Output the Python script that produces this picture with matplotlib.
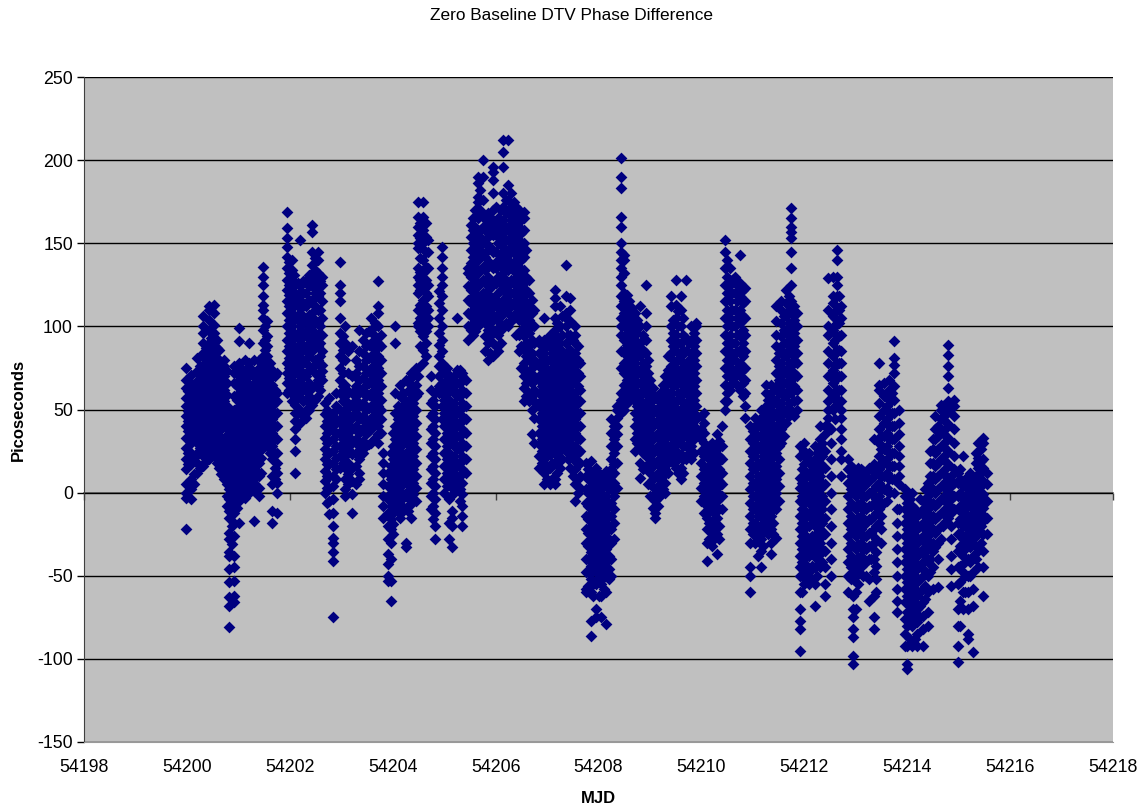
import matplotlib
matplotlib.use("Agg")
import matplotlib.pyplot as plt

plt.rcParams['font.family'] = ['Liberation Sans', 'DejaVu Sans']
plt.rcParams['axes.unicode_minus'] = False

# Values, one list per vertical streak of points
lobe1_x = [54199.98, 54200.07, 54200.19, 54200.31, 54200.42, 54200.53, 54200.62, 54200.72, 54200.82, 54200.91]
lobe1_y = [
    [-22, -3, 0, 5, 14, 20, 27, 33, 40, 46, 52, 57, 63, 68, 75],
    [-4, 2, 8, 17, 24, 30, 36, 42, 48, 54, 60, 66, 71],
    [12, 18, 24, 30, 36, 43, 50, 55, 61, 67, 73, 81],
    [16, 22, 28, 35, 41, 47, 53, 59, 65, 71, 77, 84, 90, 96, 100, 106],
    [20, 26, 32, 38, 45, 52, 58, 64, 70, 76, 82, 90, 97, 104, 110, 112],
    [22, 28, 34, 40, 47, 54, 60, 66, 72, 78, 84, 90, 96, 101, 108, 113],
    [15, 20, 27, 34, 42, 50, 56, 62, 68, 74, 80, 86],
    [8, 13, 20, 26, 33, 41, 49, 55, 62, 70, 76, 80],
    [-81, -68, -63, -54, -46, -38, -36, -28, -24, -15, -11, -4, 2, 8, 14, 20, 28, 35, 43],
    [-66, -62, -53, -45, -38, -26, -18, -12, -7, 0, 6, 13, 20, 27, 36, 42, 50, 58, 66, 72, 76],
]
lobe2_x = [54201.02, 54201.12, 54201.21, 54201.31, 54201.4, 54201.47, 54201.56, 54201.66, 54201.76]
lobe2_y = [
    [-18, -5, 0, 7, 14, 20, 28, 34, 40, 46, 52, 60, 68, 76, 78, 91, 99],
    [-3, 3, 9, 15, 22, 28, 35, 42, 48, 54, 60, 67, 74, 80],
    [0, 6, 12, 19, 26, 33, 40, 46, 53, 60, 70, 78, 90],
    [-17, 1, 6, 14, 20, 28, 35, 41, 50, 56, 62, 70, 80],
    [-2, 3, 10, 18, 25, 33, 40, 46, 53, 58, 66, 73, 80],
    [27, 35, 43, 50, 58, 66, 74, 82, 90, 98, 105, 110, 113, 118, 125, 130, 136],
    [28, 36, 43, 50, 57, 64, 70, 76, 82, 88, 94, 103],
    [-18, -11, 5, 10, 20, 28, 36, 44, 52, 58, 65, 74],
    [-12, 0, 6, 12, 18, 24, 32, 40, 48, 55, 60, 72],
]
lobe3_x = [54201.95, 54202.04, 54202.11, 54202.2, 54202.32, 54202.44, 54202.54, 54202.62]
lobe3_y = [
    [60, 66, 72, 78, 85, 92, 100, 108, 115, 122, 128, 135, 142, 148, 153, 159, 169],
    [55, 62, 70, 78, 84, 92, 100, 108, 115, 122, 128, 134, 140],
    [12, 25, 32, 38, 43, 48, 53, 60, 66, 75, 85, 95, 105],
    [42, 50, 60, 68, 76, 84, 92, 100, 108, 116, 124, 152],
    [45, 50, 56, 62, 70, 78, 86, 95, 103, 112, 120, 128],
    [53, 63, 75, 85, 92, 100, 108, 116, 124, 130, 137, 145, 157, 161],
    [58, 64, 68, 80, 88, 95, 102, 110, 118, 125, 132, 140, 145],
    [68, 73, 77, 85, 95, 105, 115, 125, 130],
]
lobe4_x = [54202.68, 54202.76, 54202.83, 54202.97, 54203.08, 54203.2, 54203.35, 54203.48, 54203.58, 54203.72]
lobe4_y = [
    [0, 7, 13, 20, 26, 33, 40, 47, 54],
    [-13, -5, 3, 10, 17, 24, 31, 38, 45, 57],
    [-75, -41, -36, -30, -27, -20, -12, -4, 4, 10, 18, 25, 32, 40, 48],
    [15, 22, 28, 35, 42, 50, 60, 68, 75, 82, 90, 96, 105, 115, 120, 125, 139],
    [-2, 2, 8, 15, 22, 30, 38, 44, 50, 58, 65, 80, 90, 100],
    [-12, -1, 7, 15, 23, 30, 38, 45, 52, 60, 70, 88],
    [8, 12, 20, 28, 36, 44, 52, 60, 68, 76, 85, 98],
    [28, 35, 42, 50, 58, 65, 72, 80, 88, 96],
    [30, 38, 45, 52, 60, 68, 75, 82, 90, 98, 105],
    [30, 35, 40, 45, 52, 60, 68, 75, 82, 90, 100, 108, 112, 127],
]
lobe5_x = [54203.81, 54203.91, 54203.97, 54204.05, 54204.15, 54204.25, 54204.35, 54204.45]
lobe5_y = [
    [-15, -8, -2, 5, 12, 18, 24],
    [-53, -50, -43, -37, -28, -20, -12, -4, 4, 12],
    [-65, -53, -40, -30, -22, -16, -8, 0, 8, 16, 24],
    [-8, 0, 8, 16, 24, 32, 40, 48, 60, 90, 100],
    [-15, -7, 1, 9, 17, 25, 33, 41, 49, 58, 65],
    [-33, -30, -9, 0, 8, 16, 24, 32, 40, 48, 55, 68],
    [-15, -7, 1, 9, 17, 25, 33, 41, 49, 57, 65, 72],
    [-5, 3, 10, 18, 26, 34, 42, 50, 58, 65, 75],
]
lobe6_x = [54204.5, 54204.59, 54204.68, 54204.74, 54204.82, 54204.95, 54205.05, 54205.15, 54205.25, 54205.35, 54205.42]
lobe6_y = [
    [60, 70, 75, 100, 102, 110, 120, 125, 130, 135, 147, 150, 155, 160, 166, 175],
    [78, 86, 94, 100, 108, 116, 124, 132, 140, 150, 158, 166, 175],
    [100, 105, 110, 118, 125, 135, 145, 152],
    [-10, -2, 6, 14, 22, 30, 38, 46, 54, 62, 70],
    [-28, -20, -12, -4, 4, 12, 20, 28, 36, 44, 52, 60],
    [44, 52, 60, 66, 72, 78, 85, 92, 100, 110, 118, 125, 130, 135, 142, 148],
    [4, 12, 20, 28, 36, 44, 52, 60, 68, 75],
    [-33, -20, -15, -11, 3, 5, 13, 21, 29, 37, 45, 53, 61, 69],
    [3, 10, 18, 26, 34, 42, 50, 58, 66, 74, 105],
    [-20, -14, -8, -1, 6, 14, 22, 30, 38, 46, 54, 62, 70, 72],
    [12, 20, 28, 36, 44, 52, 60, 68],
]
hump_x = [54205.47, 54205.56, 54205.65, 54205.75, 54205.85, 54205.95, 54206.05, 54206.15, 54206.25, 54206.35, 54206.45, 54206.55, 54206.65, 54206.75]
hump_y = [
    [92, 100, 108, 116, 124, 132, 135],
    [95, 102, 110, 118, 126, 134, 142, 150, 158, 165],
    [100, 108, 116, 124, 132, 140, 148, 155, 165, 175, 178, 186, 190],
    [105, 113, 120, 128, 136, 144, 152, 160, 166, 176, 190, 200],
    [80, 90, 98, 106, 114, 122, 130, 138, 146, 154, 162, 168],
    [82, 90, 98, 106, 114, 125, 135, 145, 155, 162, 170, 180, 188, 193, 196],
    [85, 95, 103, 111, 120, 130, 140, 150, 160, 165],
    [100, 108, 116, 124, 132, 140, 148, 156, 164, 172, 180, 196, 205, 212],
    [100, 108, 116, 125, 134, 143, 152, 160, 168, 176, 185, 212],
    [105, 113, 120, 128, 136, 144, 152, 160, 168, 175],
    [85, 95, 104, 112, 120, 128, 136, 144, 152, 160, 165, 170],
    [55, 63, 70, 78, 86, 94, 102, 110, 118, 126, 134, 142, 150, 158, 165, 169],
    [55, 60, 70, 80, 88, 96, 104, 112, 120, 128],
    [30, 45, 55, 62, 70, 80, 90, 100, 110],
]
lobe7_x = [54206.85, 54206.95, 54207.05, 54207.15, 54207.25, 54207.36, 54207.45, 54207.55, 54207.65]
lobe7_y = [
    [15, 22, 29, 36, 44, 52, 60, 68, 76, 84, 92],
    [5, 12, 20, 28, 36, 44, 52, 60, 68, 76, 84, 92, 105],
    [5, 7, 15, 23, 31, 39, 47, 55, 63, 70, 80, 88, 95],
    [5, 8, 18, 26, 34, 42, 50, 58, 66, 74, 82, 90, 98, 105, 112, 117, 122],
    [15, 25, 33, 41, 49, 57, 65, 73, 81, 90, 100, 112],
    [25, 33, 41, 49, 57, 65, 73, 81, 90, 100, 108, 118, 137],
    [15, 24, 30, 38, 46, 54, 62, 70, 78, 86, 95, 103, 110, 117],
    [-5, 5, 14, 20, 28, 36, 44, 52, 60, 68, 76, 84, 90, 95, 100],
    [3, 10, 18, 25, 32, 40, 48, 55, 62, 70, 78],
]
lobe8_x = [54207.75, 54207.85, 54207.95, 54208.05, 54208.15, 54208.25, 54208.35]
lobe8_y = [
    [-60, -58, -48, -40, -30, -22, -14, -6, 2, 10, 18],
    [-86, -77, -60, -52, -44, -36, -28, -20, -12, -4, 4, 12, 19],
    [-75, -70, -55, -47, -39, -31, -23, -15, -7, 1, 9, 15],
    [-75, -62, -55, -47, -39, -31, -23, -15, -7, 0, 7],
    [-79, -60, -50, -42, -34, -26, -18, -10, -2, 6, 13],
    [-50, -40, -30, -22, -14, -6, 2, 10, 14, 20, 28, 36, 44],
    [3, 18, 28, 35, 40, 45, 50, 52],
]
lobe9_x = [54208.43, 54208.5, 54208.6, 54208.7, 54208.8, 54208.92, 54209.0, 54209.1, 54209.2, 54209.3, 54209.4, 54209.5, 54209.6, 54209.7, 54209.8, 54209.9]
lobe9_y = [
    [48, 52, 56, 60, 75, 85, 95, 100, 105, 112, 118, 125, 130, 135, 140, 145, 150, 160, 166, 183, 190, 201],
    [50, 58, 65, 72, 78, 85, 92, 100, 108, 115, 120, 132, 140, 143],
    [55, 62, 70, 78, 85, 92, 100, 108, 115],
    [25, 32, 40, 48, 55, 62, 70, 78, 85, 92, 100, 108],
    [9, 18, 28, 35, 42, 50, 58, 66, 74, 82, 90, 100, 112],
    [22, 28, 36, 44, 52, 60, 68, 76, 84, 92, 100, 108, 125],
    [-2, 5, 12, 20, 28, 36, 44, 52, 60, 68],
    [-15, -12, -5, 2, 10, 18, 26, 34, 42, 50, 58],
    [-2, 5, 13, 21, 29, 37, 45, 52, 60],
    [0, 6, 14, 22, 30, 38, 46, 54, 62, 70],
    [20, 28, 36, 44, 52, 60, 68, 76, 84, 92, 100, 112, 118],
    [15, 25, 35, 45, 55, 65, 75, 85, 95, 105, 113, 128],
    [8, 15, 23, 32, 42, 50, 58, 66, 74, 82, 90, 100, 110, 118],
    [20, 28, 36, 44, 52, 60, 68, 76, 85, 93, 128],
    [20, 28, 36, 44, 52, 60, 68, 76, 84, 92, 100],
    [36, 44, 52, 60, 68, 76, 84, 92, 100, 102],
]
lobe10_x = [54210.0, 54210.1, 54210.2, 54210.3, 54210.4, 54210.46, 54210.55, 54210.65, 54210.75, 54210.85]
lobe10_y = [
    [-5, 3, 10, 18, 25, 32, 38, 46],
    [-41, -30, -22, -15, -8, 0, 8, 15, 25],
    [-32, -24, -17, -8, 0, 8, 16, 24, 30],
    [-37, -25, -15, -5, 3, 10, 18, 26, 35],
    [-10, -2, 5, 12, 20, 28, 40],
    [50, 55, 65, 75, 85, 95, 105, 115, 125, 135, 145, 152],
    [62, 70, 78, 85, 95, 105, 115, 125, 135],
    [70, 80, 90, 100, 110, 120, 130],
    [62, 70, 78, 86, 94, 102, 110, 118, 126, 143],
    [45, 52, 60, 68, 75, 85, 95, 105, 115, 123],
]
lobe11_x = [54210.95, 54211.05, 54211.15, 54211.25, 54211.35, 54211.45, 54211.55, 54211.65, 54211.75, 54211.85]
lobe11_y = [
    [-60, -50, -45, -30, -22, -14, -6, 2, 10, 18, 25, 32, 40],
    [-30, -25, -18, -10, -2, 6, 14, 22, 30, 38, 45],
    [-45, -35, -28, -20, -12, -5, 3, 10, 18, 26, 34, 42, 50],
    [-20, -12, -4, 4, 12, 20, 28, 36, 44, 52, 60, 65],
    [-37, -30, -22, -14, -6, 2, 10, 18, 26, 34, 42, 50, 57, 65],
    [-27, -10, 0, 8, 16, 24, 32, 40, 48, 56, 64, 72, 80, 88, 95, 103, 112],
    [30, 38, 46, 54, 62, 70, 78, 86, 94, 102, 110, 115],
    [42, 50, 58, 66, 74, 82, 90, 98, 106, 114, 122],
    [50, 60, 68, 76, 84, 92, 100, 108, 115, 125, 135, 145, 153, 157, 160, 165, 171],
    [50, 56, 62, 70, 78, 84, 92, 100, 108],
]
lobe12_x = [54211.92, 54212.0, 54212.1, 54212.2, 54212.3, 54212.4, 54212.47, 54212.55, 54212.63, 54212.72]
lobe12_y = [
    [-95, -82, -77, -70, -60, -50, -45, -38, -30, -22, -14, -5, 3, 9, 22, 28],
    [-55, -47, -40, -32, -25, -15, -7, 1, 9, 17, 25, 30],
    [-55, -48, -38, -30, -20, -12, -4, 4, 12, 20, 24],
    [-68, -55, -45, -35, -28, -20, -12, -4, 4, 12, 20, 28],
    [-45, -37, -30, -22, -14, -6, 2, 10, 18, 25, 32, 40],
    [-62, -55, -45, -35, -25, -15, -5, 5, 15, 25, 35, 40],
    [40, 45, 50, 55, 62, 70, 78, 85, 95, 100, 110, 129],
    [50, 58, 66, 74, 82, 90, 98, 106, 114, 118, 130],
    [55, 62, 70, 78, 86, 94, 102, 110, 118, 125, 130, 140, 146],
    [10, 20, 25, 32, 38, 45, 50, 55, 62, 70, 78, 85, 95, 105, 112],
]
lobe13_x = [54212.85, 54212.94, 54213.05, 54213.15, 54213.25, 54213.35, 54213.45, 54213.55, 54213.65, 54213.75, 54213.85]
lobe13_y = [
    [-60, -50, -42, -34, -26, -18, -10, -2, 6, 14, 20],
    [-103, -98, -87, -82, -75, -70, -62, -52, -48, -40, -32, -24, -16, -8, 0, 8, 15],
    [-55, -47, -39, -31, -23, -15, -7, 1, 9, 15],
    [-50, -42, -34, -26, -18, -10, -2, 6, 13],
    [-65, -52, -40, -32, -24, -16, -8, 0, 8, 15],
    [-82, -75, -62, -48, -40, -30, -22, -14, -6, 2, 10, 17, 32],
    [-18, -10, -2, 6, 14, 22, 30, 38, 46, 54, 62, 65, 78],
    [-6, 2, 10, 18, 26, 34, 42, 50, 58, 66],
    [0, 8, 16, 24, 32, 40, 48, 56, 60, 62, 68],
    [0, 8, 16, 24, 32, 40, 48, 56, 64, 72, 77, 81, 91],
    [-10, 5, 10, 16, 22, 28, 35, 42, 50],
]
lobe14_x = [54213.95, 54214.0, 54214.1, 54214.2, 54214.3, 54214.4, 54214.5, 54214.6, 54214.7, 54214.8, 54214.9]
lobe14_y = [
    [-92, -85, -76, -66, -58, -50, -42, -34, -26, -18, -10, -2, 2],
    [-106, -103, -92, -80, -72, -62, -54, -46, -38, -30, -22, -14, -6],
    [-92, -80, -72, -64, -56, -48, -40, -32, -24, -16, -8, 0],
    [-92, -85, -78, -70, -62, -54, -46, -38, -30, -22, -14],
    [-92, -82, -74, -66, -58, -50, -42, -34, -26, -18, -10, -5],
    [-80, -72, -60, -50, -42, -34, -26, -18, -10, -2, 6],
    [-58, -45, -35, -30, -22, -14, -6, 2, 10, 18, 26, 32],
    [-57, -40, -30, -22, -14, -6, 2, 10, 18, 26, 34, 40],
    [-20, -12, -4, 4, 12, 20, 28, 36, 44, 52],
    [-15, -7, 1, 9, 17, 25, 33, 41, 49, 55, 63, 70, 76, 83, 89],
    [-10, -2, 6, 14, 22, 30, 38, 46, 52, 56],
]
lobe15_x = [54214.98, 54215.08, 54215.18, 54215.28, 54215.38, 54215.48, 54215.55]
lobe15_y = [
    [-102, -92, -80, -70, -55, -45, -35, -25, -18, -10, -2, 6, 12],
    [-70, -60, -48, -38, -28, -20, -12, -4, 4, 22],
    [-88, -85, -70, -60, -50, -40, -30, -22, -14, -6, 2, 10],
    [-96, -68, -58, -48, -38, -28, -20, -12, -4, 4, 8],
    [-45, -35, -25, -17, -9, -1, 7, 15, 21, 30],
    [-62, -45, -35, -25, -17, -9, -1, 7, 15, 20, 30, 33],
    [-25, -15, -5, 5, 12],
]
# the solid middle of each streak group
core_x = [54200.03, 54200.13, 54200.25, 54200.37, 54200.47, 54200.58, 54200.67, 54200.77, 54200.87, 54200.97,
          54201.07, 54201.17, 54201.26, 54201.36, 54201.44, 54201.52, 54201.61, 54201.71, 54201.99, 54202.08,
          54202.16, 54202.26, 54202.38, 54202.49, 54202.58, 54202.72, 54202.9, 54203.03, 54203.14, 54203.28,
          54203.42, 54203.53, 54203.65, 54203.77, 54204.0, 54204.1, 54204.2, 54204.3, 54204.4, 54204.54,
          54204.64, 54204.78, 54204.9, 54205.0, 54205.1, 54205.2, 54205.3, 54205.52, 54205.6, 54205.7,
          54205.8, 54205.9, 54206.0, 54206.1, 54206.2, 54206.3, 54206.4, 54206.5, 54206.6, 54206.7,
          54206.9, 54207.0, 54207.1, 54207.2, 54207.3, 54207.4, 54207.5, 54207.6, 54207.8, 54207.9,
          54208.0, 54208.1, 54208.2, 54208.3, 54208.55, 54208.65, 54208.75, 54208.86, 54208.96, 54209.05,
          54209.15, 54209.25, 54209.35, 54209.45, 54209.55, 54209.65, 54209.75, 54209.85, 54210.05, 54210.15,
          54210.25, 54210.35, 54210.5, 54210.6, 54210.7, 54210.8, 54211.0, 54211.1, 54211.2, 54211.3,
          54211.4, 54211.5, 54211.6, 54211.7, 54211.8, 54211.96, 54212.05, 54212.15, 54212.25, 54212.35,
          54212.52, 54212.59, 54212.68, 54212.9, 54213.0, 54213.1, 54213.2, 54213.3, 54213.4, 54213.5,
          54213.6, 54213.7, 54213.8, 54214.05, 54214.15, 54214.25, 54214.35, 54214.45, 54214.55, 54214.65,
          54214.75, 54214.85, 54215.03, 54215.13, 54215.23, 54215.33, 54215.43, 54215.51]
core_y = [
    [17, 24, 37, 43, 49, 61], [5, 11, 21, 33, 39, 45, 51, 57, 63], [15, 27, 33, 39, 46, 52, 58, 64, 70, 76],
    [19, 25, 31, 38, 44, 50, 56, 62, 68, 74, 80, 87], [24, 30, 36, 42, 49, 55, 61, 67, 73, 79, 85, 93],
    [18, 25, 31, 37, 44, 51, 57, 63, 69, 75, 81, 87, 92], [11, 17, 24, 30, 38, 46, 53, 59, 65, 71, 77],
    [-8, -2, 5, 11, 17, 24, 31, 38, 46, 52, 59, 66, 73], [-31, -20, -8, -1, 5, 11, 17, 24, 32, 39, 47],
    [-9, -2, 3, 10, 17, 24, 31, 37, 43, 49, 56, 64, 72], [3, 10, 17, 24, 31, 38, 45, 51, 57, 64, 71],
    [0, 6, 12, 18, 25, 31, 38, 45, 51, 57, 64, 71], [3, 9, 16, 23, 30, 36, 43, 50, 56, 65, 74],
    [3, 10, 17, 24, 31, 38, 45, 53, 59, 66, 74], [12, 21, 29, 37, 43, 50, 55, 62, 70, 78],
    [30, 39, 47, 54, 61, 68, 74, 80, 86, 92, 100], [24, 32, 40, 47, 54, 61, 69, 78], [8, 15, 24, 32, 40, 48, 55, 62, 70],
    [62, 69, 75, 81, 88, 96, 104, 112, 119, 125, 132, 139], [58, 66, 74, 81, 88, 96, 104, 112, 119, 125, 131],
    [48, 57, 65, 72, 80, 88, 96, 104, 112, 119, 126], [46, 55, 64, 72, 80, 88, 96, 104, 112, 120, 127],
    [50, 58, 66, 74, 82, 90, 99, 107, 116, 124, 131], [56, 65, 72, 80, 88, 96, 104, 112, 120, 127, 134, 141],
    [62, 70, 76, 82, 90, 100, 110, 120, 127], [-6, 3, 10, 17, 23, 30, 36, 43, 50], [8, 14, 21, 28, 36, 44, 52, 60],
    [18, 25, 32, 38, 46, 55, 64, 72, 80, 86, 94], [5, 11, 18, 26, 34, 41, 47, 54, 61, 72, 85], [5, 16, 24, 32, 40, 48, 56, 64, 72, 80],
    [24, 31, 39, 46, 54, 62, 69, 76, 84, 92], [29, 37, 43, 51, 59, 66, 73, 81, 89, 97], [33, 42, 49, 56, 64, 72, 79, 86, 94, 102],
    [36, 44, 50, 56, 64, 72, 80, 88, 95], [-25, -19, -12, -4, 4, 12, 20, 28, 36], [-11, -4, 4, 12, 20, 28, 36, 44, 52],
    [-11, -3, 5, 13, 21, 29, 37, 45, 53, 60], [-11, -3, 5, 13, 21, 29, 37, 45, 53, 61], [-1, 6, 14, 22, 30, 38, 46, 54, 62, 70],
    [88, 97, 105, 113, 122, 128, 133, 141, 148, 153, 162], [82, 90, 97, 104, 112, 120, 128, 136, 145, 154, 162], [-16, -8, 0, 8, 16, 24, 32, 40, 48, 56],
    [60, 64, 70, 76, 82, 89, 96, 105, 114, 121], [0, 8, 16, 24, 32, 40, 48, 56, 64, 72], [-28, -18, -4, 8, 16, 24, 32, 40, 48, 56, 64, 71],
    [0, 7, 14, 22, 30, 38, 46, 54, 62, 70], [-5, 2, 10, 18, 26, 34, 42, 50, 58, 66, 74],
    [98, 106, 114, 122, 130, 138, 146, 154, 161], [97, 105, 113, 120, 128, 136, 144, 151, 160, 170], [102, 110, 118, 126, 134, 142, 150, 158, 170, 182],
    [85, 94, 102, 110, 118, 126, 134, 142, 150, 158, 165], [84, 94, 102, 110, 118, 128, 138, 148, 158, 166], [88, 98, 106, 116, 126, 135, 145, 155, 163, 172],
    [90, 98, 106, 114, 122, 128, 136, 144, 152, 162, 170], [102, 112, 120, 128, 136, 144, 152, 160, 168, 176], [103, 112, 120, 128, 138, 148, 156, 164, 172, 180],
    [95, 108, 116, 124, 132, 140, 148, 156, 164, 172], [75, 88, 98, 108, 116, 124, 132, 140, 148, 156, 164], [58, 66, 74, 82, 90, 98, 106, 114, 122, 130, 146],
    [35, 50, 58, 66, 75, 84, 92, 100, 108, 116], [18, 25, 32, 40, 48, 56, 64, 72, 80, 88], [8, 16, 24, 32, 40, 48, 56, 64, 72, 80, 88],
    [8, 18, 27, 35, 43, 51, 59, 67, 75, 84, 91], [12, 22, 30, 38, 46, 54, 62, 70, 78, 86, 94, 102], [20, 29, 37, 45, 53, 61, 69, 77, 85, 95, 106],
    [20, 28, 37, 45, 53, 61, 69, 77, 85, 95, 104], [10, 20, 27, 34, 42, 50, 58, 66, 74, 82, 92], [0, 8, 17, 24, 32, 40, 48, 56, 64, 72, 80, 88],
    [-56, -48, -40, -32, -24, -16, -8, 0, 8, 14], [-62, -55, -47, -40, -32, -24, -16, -8, 0, 7], [-62, -51, -43, -35, -27, -19, -11, -3, 5, 12],
    [-58, -51, -43, -35, -27, -19, -11, -3, 4, 10], [-52, -46, -38, -30, -22, -14, -6, 2, 9], [-28, -18, -10, -2, 6, 12, 17, 24, 32, 40],
    [54, 60, 68, 75, 82, 89, 96, 104, 112, 119], [58, 66, 74, 81, 88, 96, 104, 111], [30, 36, 44, 52, 59, 66, 74, 82, 89, 96, 104],
    [14, 24, 32, 39, 46, 54, 62, 70, 78, 86, 95], [5, 17, 25, 32, 40, 48, 56, 64, 72, 80], [-9, -2, 8, 16, 24, 32, 40, 48, 56, 63],
    [-8, 1, 9, 17, 25, 33, 41, 48, 56], [2, 10, 18, 26, 34, 42, 50, 57, 65], [12, 18, 26, 34, 42, 50, 58, 66, 74, 82],
    [18, 24, 32, 40, 48, 56, 64, 72, 80, 88, 96, 104], [12, 20, 30, 40, 50, 60, 70, 80, 90, 100, 109], [12, 20, 28, 37, 46, 54, 62, 70, 78, 86, 95, 105],
    [24, 32, 40, 48, 56, 64, 72, 80, 90], [24, 32, 40, 48, 56, 64, 72, 80, 88, 96], [-12, -2, 6, 14, 22, 30, 36, 42, 48],
    [-28, -18, -11, -4, 4, 12, 20, 28], [-28, -20, -12, -4, 4, 12, 20, 27], [-28, -20, -10, -1, 7, 14, 22, 31],
    [55, 60, 70, 80, 90, 100, 110, 120, 130, 140], [66, 74, 82, 90, 100, 110, 120, 128], [65, 75, 85, 95, 105, 115, 125],
    [58, 66, 74, 82, 90, 98, 106, 114, 122], [-25, -18, -10, -2, 6, 14, 22, 30, 37], [-38, -28, -21, -14, -6, 2, 10, 18, 26, 34, 42],
    [-32, -24, -16, -8, 0, 7, 14, 22, 30, 38, 46], [-25, -16, -8, 0, 8, 16, 24, 32, 40, 48, 56], [-25, -18, -10, -2, 6, 14, 22, 30, 38, 46, 54, 61],
    [-5, 4, 12, 20, 28, 36, 44, 52, 60, 68, 76, 84], [34, 42, 50, 58, 66, 74, 82, 90, 98, 106], [46, 54, 62, 70, 78, 86, 94, 102, 110, 118],
    [46, 55, 64, 72, 80, 88, 96, 104, 112], [-60, -50, -42, -34, -26, -18, -10, -2, 6, 14], [-52, -44, -36, -28, -20, -12, -4, 4, 12, 20],
    [-52, -44, -34, -26, -16, -8, 0, 8, 16], [-50, -40, -32, -24, -16, -8, 0, 8, 16, 24], [-42, -34, -26, -18, -10, -2, 6, 14, 22, 30],
    [-50, -40, -30, -20, -10, 0, 10, 20, 30, 38], [44, 52, 60, 68, 76, 84, 92, 100, 105], [55, 62, 70, 78, 86, 94, 102, 110, 118],
    [-45, -52, -38, -30, -22, -14, -6, 2, 10, 16], [-70, -60, -50, -42, -34, -26, -18, -10, -2, 6, 11], [-45, -38, -30, -22, -14, -6, 2, 8, 14],
    [-50, -42, -34, -26, -18, -10, -2, 5, 10], [-40, -32, -24, -16, -8, 0, 8, 14], [-60, -52, -44, -36, -28, -20, -12, -4, 4, 12],
    [-30, -22, -14, -6, 2, 10, 18, 26, 34], [-5, 3, 12, 20, 28, 36, 44, 52, 58], [8, 16, 24, 32, 40, 48, 56, 60],
    [-72, -65, -58, -50, -42, -34, -26, -18, -10], [-88, -76, -68, -60, -52, -44, -36, -28, -20, -12, -4], [-88, -74, -66, -58, -50, -42, -34, -26, -18, -10],
    [-75, -68, -60, -52, -44, -36, -28, -20, -12, -4], [-64, -56, -47, -38, -30, -22, -14, -6, 2], [-48, -40, -30, -22, -14, -6, 2, 10, 18, 25],
    [-33, -24, -16, -8, 0, 8, 16, 24, 32, 38, 46], [-28, -20, -12, -4, 4, 12, 20, 28, 36, 44, 50, 53], [-17, -9, -1, 7, 15, 23, 31, 39, 47, 53],
    [-56, -46, -38, -28, -20, -12, -4, 4, 10], [-80, -65, -54, -44, -32, -24, -16, -8, 0, 8, 14], [-60, -50, -42, -34, -26, -18, -10, -2, 6],
    [-50, -42, -33, -24, -16, -8, 0, 6, 12], [-40, -32, -22, -14, -6, 2, 10, 18, 24], [-30, -20, -12, -4, 4, 12, 19, 26],
]

x_ticks = [54198, 54200, 54202, 54204, 54206, 54208, 54210, 54212, 54214, 54216, 54218]
y_ticks = [-150, -100, -50, 0, 50, 100, 150, 200, 250]

fig = plt.figure(figsize=(11.43, 8.09), dpi=100)
ax = fig.add_axes([84 / 1143, 1 - 742 / 809, (1113 - 84) / 1143, (742 - 77) / 809])
ax.set_facecolor('#C0C0C0')

lobes = [(lobe1_x, lobe1_y), (lobe2_x, lobe2_y), (lobe3_x, lobe3_y), (lobe4_x, lobe4_y),
         (lobe5_x, lobe5_y), (lobe6_x, lobe6_y), (hump_x, hump_y), (lobe7_x, lobe7_y),
         (lobe8_x, lobe8_y), (lobe9_x, lobe9_y), (lobe10_x, lobe10_y), (lobe11_x, lobe11_y),
         (lobe12_x, lobe12_y), (lobe13_x, lobe13_y), (lobe14_x, lobe14_y), (lobe15_x, lobe15_y),
         (core_x, core_y)]
for xs, columns in lobes:
    for mjd, values in zip(xs, columns):
        ax.scatter([mjd] * len(values), values, marker='D', s=36, color='#000080', linewidths=0, zorder=3)

ax.set_xlim(54198, 54218)
ax.set_ylim(-150, 250)
ax.set_xticks(x_ticks)
ax.set_yticks(y_ticks)
ax.xaxis.set_major_formatter(matplotlib.ticker.FormatStrFormatter('%d'))
ax.grid(axis='y', color='black', linewidth=1, zorder=1)
ax.set_axisbelow(True)
ax.tick_params(axis='x', length=0, labelsize=12.8, pad=12, colors='black')
ax.tick_params(axis='y', length=5, width=1, labelsize=12.8, pad=3)

ax.spines['top'].set_visible(False)
ax.spines['right'].set_visible(False)
ax.spines['left'].set_color('#404040')
ax.spines['bottom'].set_color('#999999')

# x axis itself crosses at zero, labels stay at the bottom
zero_axis = ax.secondary_xaxis(150 / 400)
zero_axis.set_xticks(x_ticks)
zero_axis.tick_params(axis='x', labelbottom=False, length=5, width=1, color='#404040')
zero_axis.spines['bottom'].set_color('#606060')
zero_axis.spines['bottom'].set_linewidth(1.2)

ax.set_xlabel('MJD', fontsize=12, fontweight='bold', labelpad=11)
ax.set_ylabel('Picoseconds', fontsize=12, fontweight='bold', labelpad=8)
fig.text(571 / 1143, 1 - 15 / 809, 'Zero Baseline DTV Phase Difference', ha='center', va='center', fontsize=12.4)

fig.savefig('out.png', dpi=100)
